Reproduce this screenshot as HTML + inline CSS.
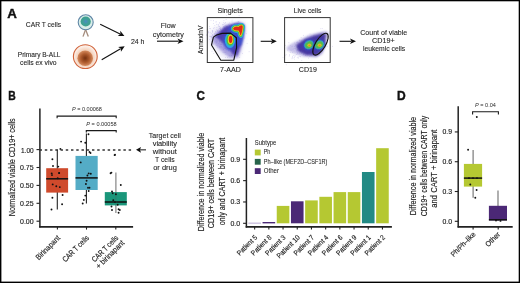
<!DOCTYPE html>
<html><head><meta charset="utf-8"><style>
html,body{margin:0;padding:0;background:#fff;width:520px;height:283px;overflow:hidden}
svg{display:block;font-family:"Liberation Sans", sans-serif;will-change:transform}
</style></head><body>
<svg width="520" height="283" viewBox="0 0 520 283" font-family='"Liberation Sans", sans-serif'>
<rect width="520" height="283" fill="#fff"/>
<rect x="0.00" y="0.00" width="520.00" height="1.30" fill="#000" />
<rect x="0.00" y="0.00" width="1.40" height="283.00" fill="#000" />
<rect x="518.70" y="0.00" width="1.30" height="283.00" fill="#000" />
<rect x="0.00" y="281.60" width="520.00" height="1.40" fill="#000" />
<text x="7.30" y="17.90" font-size="12.4" font-weight="bold" font-style="normal" fill="#111" stroke="#111" stroke-width="0.4" textLength="9.60" lengthAdjust="spacingAndGlyphs">A</text>
<text x="25.80" y="27.00" font-size="8.0" font-weight="normal" font-style="normal" fill="#1c1c1c" stroke="#1c1c1c" stroke-width="0.1" textLength="35.20" lengthAdjust="spacingAndGlyphs">CAR T cells</text>
<text x="17.80" y="56.90" font-size="8.0" font-weight="normal" font-style="normal" fill="#1c1c1c" stroke="#1c1c1c" stroke-width="0.1" textLength="42.70" lengthAdjust="spacingAndGlyphs">Primary B-ALL</text>
<text x="20.10" y="64.60" font-size="8.0" font-weight="normal" font-style="normal" fill="#1c1c1c" stroke="#1c1c1c" stroke-width="0.1" textLength="36.50" lengthAdjust="spacingAndGlyphs">cells ex vivo</text>
<text x="130.90" y="44.10" font-size="8.0" font-weight="normal" font-style="normal" fill="#1c1c1c" stroke="#1c1c1c" stroke-width="0.1" textLength="13.50" lengthAdjust="spacingAndGlyphs">24 h</text>
<text x="160.80" y="28.40" font-size="8.0" font-weight="normal" font-style="normal" fill="#1c1c1c" stroke="#1c1c1c" stroke-width="0.1" textLength="14.90" lengthAdjust="spacingAndGlyphs">Flow</text>
<text x="152.80" y="36.90" font-size="8.0" font-weight="normal" font-style="normal" fill="#1c1c1c" stroke="#1c1c1c" stroke-width="0.1" textLength="31.10" lengthAdjust="spacingAndGlyphs">cytometry</text>
<text x="217.50" y="13.00" font-size="8.0" font-weight="normal" font-style="normal" fill="#1c1c1c" stroke="#1c1c1c" stroke-width="0.1" textLength="25.40" lengthAdjust="spacingAndGlyphs">Singlets</text>
<text x="220.00" y="71.90" font-size="8.0" font-weight="normal" font-style="normal" fill="#1c1c1c" stroke="#1c1c1c" stroke-width="0.1" textLength="20.80" lengthAdjust="spacingAndGlyphs">7-AAD</text>
<text x="293.80" y="12.70" font-size="8.0" font-weight="normal" font-style="normal" fill="#1c1c1c" stroke="#1c1c1c" stroke-width="0.1" textLength="27.50" lengthAdjust="spacingAndGlyphs">Live cells</text>
<text x="298.80" y="71.90" font-size="8.0" font-weight="normal" font-style="normal" fill="#1c1c1c" stroke="#1c1c1c" stroke-width="0.1" textLength="18.00" lengthAdjust="spacingAndGlyphs">CD19</text>
<text stroke="#1c1c1c" stroke-width="0.15" transform="translate(203.00,39.80) rotate(-90)" x="0" y="0" font-size="7.0" fill="#1c1c1c" text-anchor="middle" textLength="28.30" lengthAdjust="spacingAndGlyphs">AnnexinV</text>
<text x="360.30" y="35.20" font-size="8.0" font-weight="normal" font-style="normal" fill="#1c1c1c" stroke="#1c1c1c" stroke-width="0.1" textLength="46.90" lengthAdjust="spacingAndGlyphs">Count of viable</text>
<text x="372.00" y="43.40" font-size="8.0" font-weight="normal" font-style="normal" fill="#1c1c1c" stroke="#1c1c1c" stroke-width="0.1" textLength="22.70" lengthAdjust="spacingAndGlyphs">CD19+</text>
<text x="362.90" y="51.10" font-size="8.0" font-weight="normal" font-style="normal" fill="#1c1c1c" stroke="#1c1c1c" stroke-width="0.1" textLength="42.20" lengthAdjust="spacingAndGlyphs">leukemic cells</text>
<defs>
<radialGradient id="gT" cx="50%" cy="50%" r="50%"><stop offset="0" stop-color="#4b8cc0"/><stop offset="0.55" stop-color="#3f9f98"/><stop offset="1" stop-color="#3da08c"/></radialGradient>
<radialGradient id="gB" cx="50%" cy="50%" r="50%"><stop offset="0" stop-color="#75300f"/><stop offset="0.55" stop-color="#ad5a2e"/><stop offset="1" stop-color="#d68c60"/></radialGradient>
<radialGradient id="gBo" cx="50%" cy="55%" r="50%"><stop offset="0.5" stop-color="#f0c4a8"/><stop offset="1" stop-color="#fdf1ea"/></radialGradient>
<filter id="bl1" x="-50%" y="-50%" width="200%" height="200%"><feGaussianBlur stdDeviation="0.6"/></filter>
<filter id="bl05" x="-50%" y="-50%" width="200%" height="200%"><feGaussianBlur stdDeviation="0.45"/></filter>
<filter id="bl2" x="-50%" y="-50%" width="200%" height="200%"><feGaussianBlur stdDeviation="1.2"/></filter>
<filter id="bl3" x="-50%" y="-50%" width="200%" height="200%"><feGaussianBlur stdDeviation="2.2"/></filter>
</defs>
<line x1="85.60" y1="29.50" x2="83.00" y2="36.60" stroke="#a58c7c" stroke-width="1.3" />
<line x1="85.60" y1="29.50" x2="88.30" y2="36.60" stroke="#a58c7c" stroke-width="1.3" />
<circle cx="85.7" cy="22.3" r="7.5" fill="#d9eee9" stroke="#5f86a6" stroke-width="1.1"/>
<circle cx="85.7" cy="21.5" r="5.1" fill="url(#gT)"/>
<circle cx="85.3" cy="56.6" r="11.9" fill="url(#gBo)" stroke="#d0633a" stroke-width="1.1"/>
<circle cx="85.2" cy="58.2" r="7.8" fill="url(#gB)" filter="url(#bl1)"/>
<line x1="100.20" y1="24.20" x2="120.09" y2="33.90" stroke="#111" stroke-width="1.1" />
<polygon points="124.40,36.00 117.78,35.89 120.36,34.03 120.23,30.85" fill="#111"/>
<line x1="101.70" y1="59.80" x2="120.56" y2="48.73" stroke="#111" stroke-width="1.1" />
<polygon points="124.70,46.30 120.94,51.75 120.82,48.58 118.11,46.92" fill="#111"/>
<line x1="157.00" y1="41.20" x2="178.70" y2="41.20" stroke="#111" stroke-width="1.1" />
<polygon points="183.50,41.20 177.50,44.00 179.00,41.20 177.50,38.40" fill="#111"/>
<line x1="260.70" y1="41.30" x2="272.00" y2="41.30" stroke="#111" stroke-width="1.1" />
<polygon points="276.80,41.30 270.80,44.10 272.30,41.30 270.80,38.50" fill="#111"/>
<line x1="339.50" y1="41.30" x2="351.20" y2="41.30" stroke="#111" stroke-width="1.1" />
<polygon points="356.00,41.30 350.00,44.10 351.50,41.30 350.00,38.50" fill="#111"/>
<polygon points="209.5,33 216,27 226,23.5 236,21.5 243,21.5 246,24 246,32 243.5,45 240,56 235,61 228,60 220,55 213,47 209,40" fill="#9a92da" opacity="0.22" filter="url(#bl3)"/>
<g fill="#6a5cc8" opacity="0.35"><circle cx="221.8" cy="40.9" r="0.45"/><circle cx="226.1" cy="37.0" r="0.45"/><circle cx="221.1" cy="33.0" r="0.45"/><circle cx="231.0" cy="49.2" r="0.45"/><circle cx="231.4" cy="47.8" r="0.45"/><circle cx="227.6" cy="43.4" r="0.45"/><circle cx="211.2" cy="33.6" r="0.45"/><circle cx="226.8" cy="45.7" r="0.45"/><circle cx="223.9" cy="20.6" r="0.45"/><circle cx="222.7" cy="32.0" r="0.45"/><circle cx="228.2" cy="41.7" r="0.45"/><circle cx="232.5" cy="40.1" r="0.45"/><circle cx="226.0" cy="43.9" r="0.45"/><circle cx="213.3" cy="44.3" r="0.45"/><circle cx="223.6" cy="49.5" r="0.45"/><circle cx="225.7" cy="32.4" r="0.45"/><circle cx="224.3" cy="37.3" r="0.45"/><circle cx="228.8" cy="45.3" r="0.45"/><circle cx="227.9" cy="32.4" r="0.45"/><circle cx="216.6" cy="42.7" r="0.45"/><circle cx="219.6" cy="36.1" r="0.45"/><circle cx="236.1" cy="35.3" r="0.45"/><circle cx="219.8" cy="46.8" r="0.45"/><circle cx="214.8" cy="25.6" r="0.45"/><circle cx="229.4" cy="35.3" r="0.45"/><circle cx="229.5" cy="42.9" r="0.45"/><circle cx="212.6" cy="34.8" r="0.45"/><circle cx="225.6" cy="48.9" r="0.45"/><circle cx="233.4" cy="51.0" r="0.45"/><circle cx="233.2" cy="34.3" r="0.45"/><circle cx="232.9" cy="40.9" r="0.45"/><circle cx="229.4" cy="30.9" r="0.45"/><circle cx="222.5" cy="31.2" r="0.45"/><circle cx="244.3" cy="38.1" r="0.45"/><circle cx="215.5" cy="31.9" r="0.45"/><circle cx="232.3" cy="52.0" r="0.45"/><circle cx="226.4" cy="15.4" r="0.45"/><circle cx="231.9" cy="38.6" r="0.45"/><circle cx="214.0" cy="37.7" r="0.45"/><circle cx="232.2" cy="47.8" r="0.45"/><circle cx="225.4" cy="43.7" r="0.45"/><circle cx="233.1" cy="53.2" r="0.45"/><circle cx="226.6" cy="46.0" r="0.45"/><circle cx="209.7" cy="36.4" r="0.45"/><circle cx="229.5" cy="48.7" r="0.45"/><circle cx="216.6" cy="24.3" r="0.45"/><circle cx="240.3" cy="36.4" r="0.45"/><circle cx="219.8" cy="43.9" r="0.45"/><circle cx="209.7" cy="39.6" r="0.45"/><circle cx="230.3" cy="42.8" r="0.45"/><circle cx="224.9" cy="45.3" r="0.45"/><circle cx="221.1" cy="46.4" r="0.45"/><circle cx="223.8" cy="33.7" r="0.45"/><circle cx="232.5" cy="46.8" r="0.45"/><circle cx="215.7" cy="39.1" r="0.45"/><circle cx="237.5" cy="47.1" r="0.45"/><circle cx="217.9" cy="30.6" r="0.45"/><circle cx="226.5" cy="37.6" r="0.45"/><circle cx="240.0" cy="43.9" r="0.45"/><circle cx="240.3" cy="41.7" r="0.45"/><circle cx="217.9" cy="38.1" r="0.45"/><circle cx="228.9" cy="51.4" r="0.45"/><circle cx="227.5" cy="42.9" r="0.45"/><circle cx="224.1" cy="43.8" r="0.45"/><circle cx="223.5" cy="40.3" r="0.45"/><circle cx="229.6" cy="43.6" r="0.45"/><circle cx="228.1" cy="47.7" r="0.45"/><circle cx="237.2" cy="54.4" r="0.45"/><circle cx="225.1" cy="35.4" r="0.45"/><circle cx="221.3" cy="44.5" r="0.45"/><circle cx="221.9" cy="39.8" r="0.45"/><circle cx="250.4" cy="39.0" r="0.45"/><circle cx="217.6" cy="34.1" r="0.45"/><circle cx="227.4" cy="43.7" r="0.45"/><circle cx="220.0" cy="40.5" r="0.45"/><circle cx="230.4" cy="39.2" r="0.45"/><circle cx="239.7" cy="57.2" r="0.45"/><circle cx="223.0" cy="36.0" r="0.45"/><circle cx="224.9" cy="38.3" r="0.45"/><circle cx="211.0" cy="20.2" r="0.45"/><circle cx="238.2" cy="40.6" r="0.45"/><circle cx="220.9" cy="44.3" r="0.45"/><circle cx="224.1" cy="52.8" r="0.45"/><circle cx="216.9" cy="27.4" r="0.45"/><circle cx="220.7" cy="40.9" r="0.45"/><circle cx="246.2" cy="33.7" r="0.45"/><circle cx="240.1" cy="39.8" r="0.45"/><circle cx="237.7" cy="37.0" r="0.45"/><circle cx="221.2" cy="47.0" r="0.45"/><circle cx="224.1" cy="40.0" r="0.45"/><circle cx="230.4" cy="45.8" r="0.45"/><circle cx="217.8" cy="47.0" r="0.45"/><circle cx="234.1" cy="45.2" r="0.45"/><circle cx="249.1" cy="51.8" r="0.45"/><circle cx="233.1" cy="44.5" r="0.45"/><circle cx="223.4" cy="44.3" r="0.45"/><circle cx="224.3" cy="44.6" r="0.45"/><circle cx="223.8" cy="22.8" r="0.45"/><circle cx="234.7" cy="39.1" r="0.45"/><circle cx="226.7" cy="26.2" r="0.45"/><circle cx="230.4" cy="51.8" r="0.45"/><circle cx="240.0" cy="44.7" r="0.45"/><circle cx="231.7" cy="34.4" r="0.45"/><circle cx="223.0" cy="52.7" r="0.45"/><circle cx="212.6" cy="42.1" r="0.45"/><circle cx="233.2" cy="45.4" r="0.45"/><circle cx="206.5" cy="34.4" r="0.45"/><circle cx="228.4" cy="36.4" r="0.45"/><circle cx="226.5" cy="44.6" r="0.45"/><circle cx="240.6" cy="44.5" r="0.45"/><circle cx="225.9" cy="54.6" r="0.45"/><circle cx="236.1" cy="48.3" r="0.45"/><circle cx="216.2" cy="40.3" r="0.45"/><circle cx="226.1" cy="41.3" r="0.45"/><circle cx="236.4" cy="47.8" r="0.45"/><circle cx="213.3" cy="23.5" r="0.45"/><circle cx="210.1" cy="32.3" r="0.45"/><circle cx="231.0" cy="39.0" r="0.45"/><circle cx="221.8" cy="44.1" r="0.45"/><circle cx="219.9" cy="47.1" r="0.45"/><circle cx="220.5" cy="44.8" r="0.45"/><circle cx="227.5" cy="57.5" r="0.45"/><circle cx="217.4" cy="40.1" r="0.45"/><circle cx="219.4" cy="22.7" r="0.45"/><circle cx="208.2" cy="32.8" r="0.45"/><circle cx="218.2" cy="32.1" r="0.45"/><circle cx="224.9" cy="38.6" r="0.45"/><circle cx="221.1" cy="37.4" r="0.45"/><circle cx="237.2" cy="51.6" r="0.45"/><circle cx="224.4" cy="48.3" r="0.45"/><circle cx="231.0" cy="32.5" r="0.45"/><circle cx="217.2" cy="41.8" r="0.45"/><circle cx="218.5" cy="26.6" r="0.45"/><circle cx="228.5" cy="50.3" r="0.45"/><circle cx="222.1" cy="44.0" r="0.45"/><circle cx="232.9" cy="35.2" r="0.45"/><circle cx="219.2" cy="26.9" r="0.45"/><circle cx="234.7" cy="43.1" r="0.45"/><circle cx="224.1" cy="30.4" r="0.45"/><circle cx="216.8" cy="29.7" r="0.45"/><circle cx="216.7" cy="34.3" r="0.45"/><circle cx="209.4" cy="26.6" r="0.45"/><circle cx="231.5" cy="26.3" r="0.45"/><circle cx="232.0" cy="43.2" r="0.45"/><circle cx="216.1" cy="21.5" r="0.45"/><circle cx="230.1" cy="39.6" r="0.45"/><circle cx="227.3" cy="48.7" r="0.45"/><circle cx="228.6" cy="45.9" r="0.45"/><circle cx="231.2" cy="51.8" r="0.45"/><circle cx="239.2" cy="32.6" r="0.45"/><circle cx="225.2" cy="52.2" r="0.45"/><circle cx="226.4" cy="35.8" r="0.45"/><circle cx="247.1" cy="43.6" r="0.45"/><circle cx="217.0" cy="55.0" r="0.45"/><circle cx="216.7" cy="37.5" r="0.45"/><circle cx="238.6" cy="51.4" r="0.45"/><circle cx="225.1" cy="48.0" r="0.45"/><circle cx="220.7" cy="33.8" r="0.45"/><circle cx="223.8" cy="45.9" r="0.45"/><circle cx="226.7" cy="38.8" r="0.45"/><circle cx="221.3" cy="31.8" r="0.45"/><circle cx="231.2" cy="46.2" r="0.45"/><circle cx="224.7" cy="30.4" r="0.45"/><circle cx="237.3" cy="62.6" r="0.45"/><circle cx="242.9" cy="31.2" r="0.45"/><circle cx="227.6" cy="46.3" r="0.45"/><circle cx="234.6" cy="52.8" r="0.45"/><circle cx="223.0" cy="42.2" r="0.45"/><circle cx="208.5" cy="32.7" r="0.45"/><circle cx="231.5" cy="38.6" r="0.45"/><circle cx="225.5" cy="57.4" r="0.45"/><circle cx="220.4" cy="27.8" r="0.45"/><circle cx="226.9" cy="42.8" r="0.45"/><circle cx="228.3" cy="32.6" r="0.45"/><circle cx="234.4" cy="58.6" r="0.45"/><circle cx="225.1" cy="25.7" r="0.45"/><circle cx="231.9" cy="55.7" r="0.45"/><circle cx="233.6" cy="55.6" r="0.45"/><circle cx="219.2" cy="35.7" r="0.45"/><circle cx="216.0" cy="22.6" r="0.45"/><circle cx="223.0" cy="42.2" r="0.45"/><circle cx="222.0" cy="34.8" r="0.45"/><circle cx="227.1" cy="44.8" r="0.45"/><circle cx="229.0" cy="45.1" r="0.45"/><circle cx="220.0" cy="41.8" r="0.45"/><circle cx="230.4" cy="36.2" r="0.45"/><circle cx="222.0" cy="36.0" r="0.45"/><circle cx="224.5" cy="40.1" r="0.45"/><circle cx="225.1" cy="40.9" r="0.45"/><circle cx="231.4" cy="32.9" r="0.45"/><circle cx="223.5" cy="47.9" r="0.45"/><circle cx="229.7" cy="41.8" r="0.45"/><circle cx="233.6" cy="38.1" r="0.45"/><circle cx="213.6" cy="28.2" r="0.45"/><circle cx="216.4" cy="37.7" r="0.45"/><circle cx="232.1" cy="20.1" r="0.45"/><circle cx="211.6" cy="41.2" r="0.45"/><circle cx="230.3" cy="30.8" r="0.45"/><circle cx="218.6" cy="37.7" r="0.45"/><circle cx="228.3" cy="44.0" r="0.45"/><circle cx="231.9" cy="52.9" r="0.45"/><circle cx="222.9" cy="42.8" r="0.45"/><circle cx="231.7" cy="55.3" r="0.45"/><circle cx="237.9" cy="41.2" r="0.45"/><circle cx="221.4" cy="42.7" r="0.45"/><circle cx="218.8" cy="43.4" r="0.45"/><circle cx="225.3" cy="48.3" r="0.45"/><circle cx="212.0" cy="51.3" r="0.45"/><circle cx="235.0" cy="46.8" r="0.45"/><circle cx="213.7" cy="53.4" r="0.45"/><circle cx="219.5" cy="42.1" r="0.45"/><circle cx="232.2" cy="46.3" r="0.45"/><circle cx="217.6" cy="33.5" r="0.45"/><circle cx="222.7" cy="47.9" r="0.45"/><circle cx="230.9" cy="45.1" r="0.45"/><circle cx="228.8" cy="48.1" r="0.45"/><circle cx="227.0" cy="41.6" r="0.45"/><circle cx="221.1" cy="41.8" r="0.45"/><circle cx="222.4" cy="30.2" r="0.45"/><circle cx="233.3" cy="32.8" r="0.45"/><circle cx="233.2" cy="27.3" r="0.45"/><circle cx="218.8" cy="38.5" r="0.45"/><circle cx="229.9" cy="43.3" r="0.45"/><circle cx="231.5" cy="31.5" r="0.45"/><circle cx="235.1" cy="54.2" r="0.45"/><circle cx="237.3" cy="42.6" r="0.45"/><circle cx="233.8" cy="29.8" r="0.45"/><circle cx="226.3" cy="49.6" r="0.45"/><circle cx="214.2" cy="27.7" r="0.45"/><circle cx="238.7" cy="35.3" r="0.45"/><circle cx="219.7" cy="23.1" r="0.45"/><circle cx="228.9" cy="29.1" r="0.45"/><circle cx="225.0" cy="41.4" r="0.45"/><circle cx="226.6" cy="47.5" r="0.45"/><circle cx="229.8" cy="55.3" r="0.45"/><circle cx="220.2" cy="29.1" r="0.45"/><circle cx="224.6" cy="27.9" r="0.45"/><circle cx="225.5" cy="39.5" r="0.45"/><circle cx="237.0" cy="35.3" r="0.45"/><circle cx="218.2" cy="32.0" r="0.45"/><circle cx="226.3" cy="37.2" r="0.45"/><circle cx="229.4" cy="35.8" r="0.45"/><circle cx="228.7" cy="46.2" r="0.45"/><circle cx="228.8" cy="36.1" r="0.45"/><circle cx="238.4" cy="25.4" r="0.45"/><circle cx="219.6" cy="33.9" r="0.45"/><circle cx="215.4" cy="31.4" r="0.45"/><circle cx="233.8" cy="34.1" r="0.45"/><circle cx="226.0" cy="36.9" r="0.45"/><circle cx="225.9" cy="46.0" r="0.45"/><circle cx="230.0" cy="35.6" r="0.45"/><circle cx="225.4" cy="38.8" r="0.45"/><circle cx="229.2" cy="46.1" r="0.45"/><circle cx="228.1" cy="28.7" r="0.45"/><circle cx="227.3" cy="34.0" r="0.45"/><circle cx="219.5" cy="32.4" r="0.45"/><circle cx="222.4" cy="37.4" r="0.45"/><circle cx="231.4" cy="41.3" r="0.45"/><circle cx="242.4" cy="53.2" r="0.45"/><circle cx="232.4" cy="47.6" r="0.45"/></g>
<g fill="#5a4cc0" opacity="0.4"><circle cx="226.1" cy="19.6" r="0.45"/><circle cx="217.0" cy="35.4" r="0.45"/><circle cx="230.3" cy="38.4" r="0.45"/><circle cx="226.5" cy="35.5" r="0.45"/><circle cx="229.2" cy="32.8" r="0.45"/><circle cx="225.4" cy="29.7" r="0.45"/><circle cx="223.9" cy="26.4" r="0.45"/><circle cx="228.8" cy="24.3" r="0.45"/><circle cx="227.4" cy="38.8" r="0.45"/><circle cx="220.4" cy="32.8" r="0.45"/><circle cx="230.5" cy="28.2" r="0.45"/><circle cx="216.6" cy="35.7" r="0.45"/><circle cx="227.4" cy="32.6" r="0.45"/><circle cx="219.4" cy="41.0" r="0.45"/><circle cx="234.1" cy="26.4" r="0.45"/><circle cx="223.2" cy="29.5" r="0.45"/><circle cx="231.1" cy="24.7" r="0.45"/><circle cx="226.1" cy="28.0" r="0.45"/><circle cx="218.2" cy="37.0" r="0.45"/><circle cx="231.7" cy="27.5" r="0.45"/><circle cx="218.5" cy="37.2" r="0.45"/><circle cx="222.2" cy="33.3" r="0.45"/><circle cx="235.0" cy="31.0" r="0.45"/><circle cx="222.1" cy="42.0" r="0.45"/><circle cx="223.4" cy="34.8" r="0.45"/><circle cx="217.2" cy="34.0" r="0.45"/><circle cx="212.3" cy="44.4" r="0.45"/><circle cx="229.8" cy="23.0" r="0.45"/><circle cx="208.3" cy="31.2" r="0.45"/><circle cx="229.7" cy="26.4" r="0.45"/><circle cx="221.0" cy="31.1" r="0.45"/><circle cx="219.3" cy="28.5" r="0.45"/><circle cx="219.7" cy="26.7" r="0.45"/><circle cx="222.0" cy="33.4" r="0.45"/><circle cx="225.0" cy="29.6" r="0.45"/><circle cx="215.7" cy="35.6" r="0.45"/><circle cx="221.1" cy="39.3" r="0.45"/><circle cx="227.4" cy="29.0" r="0.45"/><circle cx="217.4" cy="31.0" r="0.45"/><circle cx="214.6" cy="33.9" r="0.45"/><circle cx="225.0" cy="32.9" r="0.45"/><circle cx="229.7" cy="37.7" r="0.45"/><circle cx="216.9" cy="34.4" r="0.45"/><circle cx="239.1" cy="15.8" r="0.45"/><circle cx="218.5" cy="34.4" r="0.45"/><circle cx="223.8" cy="33.0" r="0.45"/><circle cx="220.9" cy="34.1" r="0.45"/><circle cx="223.7" cy="34.6" r="0.45"/><circle cx="206.8" cy="35.2" r="0.45"/><circle cx="220.2" cy="28.3" r="0.45"/><circle cx="215.5" cy="37.8" r="0.45"/><circle cx="218.4" cy="36.5" r="0.45"/><circle cx="227.9" cy="30.6" r="0.45"/><circle cx="225.5" cy="29.9" r="0.45"/><circle cx="211.7" cy="36.7" r="0.45"/><circle cx="224.4" cy="28.5" r="0.45"/><circle cx="222.5" cy="35.1" r="0.45"/><circle cx="216.7" cy="37.3" r="0.45"/><circle cx="234.6" cy="23.7" r="0.45"/><circle cx="222.8" cy="31.0" r="0.45"/><circle cx="233.7" cy="27.9" r="0.45"/><circle cx="227.3" cy="26.5" r="0.45"/><circle cx="221.9" cy="32.0" r="0.45"/><circle cx="211.6" cy="43.2" r="0.45"/><circle cx="225.6" cy="22.6" r="0.45"/><circle cx="227.2" cy="29.0" r="0.45"/><circle cx="225.9" cy="31.8" r="0.45"/><circle cx="210.8" cy="36.3" r="0.45"/><circle cx="231.9" cy="24.9" r="0.45"/><circle cx="212.3" cy="30.5" r="0.45"/><circle cx="213.7" cy="37.3" r="0.45"/><circle cx="235.0" cy="27.8" r="0.45"/><circle cx="227.6" cy="39.3" r="0.45"/><circle cx="217.1" cy="31.3" r="0.45"/><circle cx="226.8" cy="32.2" r="0.45"/><circle cx="212.7" cy="31.2" r="0.45"/><circle cx="224.5" cy="31.9" r="0.45"/><circle cx="212.2" cy="35.7" r="0.45"/><circle cx="218.8" cy="35.5" r="0.45"/><circle cx="221.0" cy="32.1" r="0.45"/><circle cx="221.2" cy="37.0" r="0.45"/><circle cx="231.5" cy="26.0" r="0.45"/><circle cx="226.9" cy="26.4" r="0.45"/><circle cx="223.8" cy="34.5" r="0.45"/><circle cx="232.3" cy="25.5" r="0.45"/><circle cx="221.8" cy="33.0" r="0.45"/><circle cx="211.2" cy="37.1" r="0.45"/><circle cx="217.7" cy="35.6" r="0.45"/><circle cx="210.5" cy="28.7" r="0.45"/><circle cx="222.7" cy="32.8" r="0.45"/><circle cx="219.5" cy="37.1" r="0.45"/><circle cx="219.0" cy="30.7" r="0.45"/><circle cx="222.8" cy="24.7" r="0.45"/><circle cx="217.1" cy="34.2" r="0.45"/><circle cx="227.9" cy="28.5" r="0.45"/><circle cx="223.1" cy="28.6" r="0.45"/><circle cx="227.0" cy="37.0" r="0.45"/><circle cx="221.0" cy="42.9" r="0.45"/><circle cx="217.4" cy="34.2" r="0.45"/><circle cx="225.0" cy="35.1" r="0.45"/><circle cx="209.5" cy="28.6" r="0.45"/><circle cx="227.7" cy="32.8" r="0.45"/><circle cx="231.0" cy="39.4" r="0.45"/><circle cx="223.9" cy="32.2" r="0.45"/><circle cx="229.4" cy="30.2" r="0.45"/><circle cx="232.0" cy="21.9" r="0.45"/><circle cx="213.5" cy="20.8" r="0.45"/><circle cx="227.3" cy="27.9" r="0.45"/><circle cx="232.3" cy="36.7" r="0.45"/><circle cx="221.5" cy="31.1" r="0.45"/><circle cx="217.0" cy="30.7" r="0.45"/><circle cx="218.5" cy="36.4" r="0.45"/><circle cx="222.4" cy="32.1" r="0.45"/><circle cx="222.3" cy="35.9" r="0.45"/><circle cx="225.3" cy="29.8" r="0.45"/><circle cx="226.6" cy="29.2" r="0.45"/><circle cx="216.1" cy="41.2" r="0.45"/><circle cx="223.8" cy="27.0" r="0.45"/><circle cx="230.4" cy="29.6" r="0.45"/><circle cx="213.4" cy="43.1" r="0.45"/><circle cx="225.9" cy="34.1" r="0.45"/><circle cx="223.2" cy="30.8" r="0.45"/><circle cx="212.4" cy="40.8" r="0.45"/><circle cx="221.7" cy="30.9" r="0.45"/><circle cx="224.7" cy="31.1" r="0.45"/><circle cx="226.3" cy="28.4" r="0.45"/><circle cx="218.1" cy="24.4" r="0.45"/><circle cx="220.1" cy="35.9" r="0.45"/><circle cx="231.1" cy="26.2" r="0.45"/><circle cx="223.8" cy="38.2" r="0.45"/><circle cx="220.9" cy="35.8" r="0.45"/><circle cx="234.2" cy="26.5" r="0.45"/><circle cx="229.7" cy="25.3" r="0.45"/><circle cx="223.4" cy="31.0" r="0.45"/><circle cx="224.7" cy="35.7" r="0.45"/><circle cx="238.2" cy="21.5" r="0.45"/><circle cx="218.7" cy="35.7" r="0.45"/><circle cx="215.2" cy="37.4" r="0.45"/><circle cx="225.7" cy="29.1" r="0.45"/><circle cx="223.2" cy="24.6" r="0.45"/><circle cx="224.9" cy="23.8" r="0.45"/><circle cx="216.0" cy="32.3" r="0.45"/><circle cx="220.5" cy="36.5" r="0.45"/><circle cx="221.9" cy="30.3" r="0.45"/><circle cx="228.6" cy="35.9" r="0.45"/><circle cx="222.7" cy="33.3" r="0.45"/><circle cx="231.4" cy="28.8" r="0.45"/><circle cx="216.9" cy="45.4" r="0.45"/><circle cx="234.7" cy="17.3" r="0.45"/><circle cx="222.4" cy="33.6" r="0.45"/><circle cx="230.1" cy="31.2" r="0.45"/><circle cx="218.2" cy="29.1" r="0.45"/><circle cx="224.5" cy="35.4" r="0.45"/><circle cx="212.4" cy="32.0" r="0.45"/><circle cx="218.5" cy="25.1" r="0.45"/><circle cx="219.4" cy="31.3" r="0.45"/><circle cx="224.1" cy="27.9" r="0.45"/><circle cx="214.9" cy="33.6" r="0.45"/><circle cx="220.5" cy="29.8" r="0.45"/><circle cx="223.4" cy="34.7" r="0.45"/></g>
<polygon points="211.9,38.1 216.8,32.4 226.5,25.1 239.5,22.2 244.4,24.3 244.1,33.3 241.1,49.5 237.9,57.7 229.8,57.7 220,49.5 213.5,43" fill="#6a5cc8" opacity="0.5" filter="url(#bl2)"/>
<polygon points="215.1,36.5 224.9,26.8 237.9,23.2 243.6,25.1 242.8,34.9 240.3,46.3 237.1,55.2 233,54.4 228.1,46.3 221.6,41.4" fill="#4536a8" opacity="0.9" filter="url(#bl2)"/>
<polygon points="228,28 234,24.2 241,23.5 244.3,25.5 244.5,30 243.5,38 241.5,45 238,47 235,40 231,33 228,31" fill="#3a4fd0" opacity="0.85" filter="url(#bl2)"/>
<polygon points="233.2,28.2 234.5,26.9 236.6,26.6 238.5,27 239.8,25.8 241.7,25.3 242.8,26.6 242.4,29.8 241.7,33 240.8,35.6 240,34.6 239.4,31.9 238.5,30.6 236.6,30.6 234.5,30.3 233.2,29.3" fill="#2aa8e0" stroke="#2aa8e0" stroke-width="4.6" stroke-linejoin="round" filter="url(#bl1)"/>
<polygon points="233.2,28.2 234.5,26.9 236.6,26.6 238.5,27 239.8,25.8 241.7,25.3 242.8,26.6 242.4,29.8 241.7,33 240.8,35.6 240,34.6 239.4,31.9 238.5,30.6 236.6,30.6 234.5,30.3 233.2,29.3" fill="#4cc040" stroke="#4cc040" stroke-width="2.8" stroke-linejoin="round" filter="url(#bl05)"/>
<polygon points="233.2,28.2 234.5,26.9 236.6,26.6 238.5,27 239.8,25.8 241.7,25.3 242.8,26.6 242.4,29.8 241.7,33 240.8,35.6 240,34.6 239.4,31.9 238.5,30.6 236.6,30.6 234.5,30.3 233.2,29.3" fill="#e8d820" stroke="#e8d820" stroke-width="1.2" stroke-linejoin="round" filter="url(#bl05)"/>
<polygon points="233.2,28.2 234.5,26.9 236.6,26.6 238.5,27 239.8,25.8 241.7,25.3 242.8,26.6 242.4,29.8 241.7,33 240.8,35.6 240,34.6 239.4,31.9 238.5,30.6 236.6,30.6 234.5,30.3 233.2,29.3" fill="#e02a18" filter="url(#bl05)"/>
<ellipse cx="230.0" cy="40.9" rx="6.8" ry="9.3" fill="#3a4fd0" opacity="0.9" filter="url(#bl2)"/>
<ellipse cx="230.0" cy="40.3" rx="5.2" ry="7.6" fill="#2aa8e0" filter="url(#bl1)"/>
<ellipse cx="230.2" cy="39.8" rx="3.8" ry="5.9" fill="#4cc040" filter="url(#bl1)"/>
<ellipse cx="230.5" cy="39.4" rx="2.7" ry="4.7" fill="#e8d820" filter="url(#bl1)"/>
<ellipse cx="230.6" cy="39.3" rx="1.8" ry="3.6" fill="#e02a18" filter="url(#bl1)"/>
<polygon points="213.4,37.1 216.6,35.0 222,33.4 230.6,33.1 236.4,37.8 236.6,47.7 233.8,60.2 220.8,60.2 211.5,45" fill="none" stroke="#111" stroke-width="1.1" stroke-linejoin="round"/>
<rect x="207.3" y="17.6" width="45.6" height="44.9" fill="none" stroke="#333" stroke-width="1"/>
<g fill="#6a5cc8" opacity="0.35"><circle cx="319.9" cy="50.2" r="0.45"/><circle cx="298.0" cy="48.7" r="0.45"/><circle cx="286.2" cy="64.7" r="0.45"/><circle cx="299.2" cy="50.1" r="0.45"/><circle cx="308.6" cy="39.9" r="0.45"/><circle cx="310.3" cy="45.7" r="0.45"/><circle cx="289.6" cy="55.6" r="0.45"/><circle cx="313.9" cy="35.2" r="0.45"/><circle cx="313.8" cy="45.3" r="0.45"/><circle cx="311.1" cy="47.6" r="0.45"/><circle cx="317.7" cy="41.7" r="0.45"/><circle cx="313.4" cy="42.5" r="0.45"/><circle cx="311.4" cy="41.4" r="0.45"/><circle cx="307.9" cy="55.1" r="0.45"/><circle cx="309.9" cy="45.2" r="0.45"/><circle cx="294.1" cy="48.5" r="0.45"/><circle cx="309.4" cy="50.7" r="0.45"/><circle cx="310.8" cy="48.1" r="0.45"/><circle cx="307.9" cy="53.3" r="0.45"/><circle cx="301.4" cy="46.7" r="0.45"/><circle cx="314.3" cy="44.4" r="0.45"/><circle cx="302.4" cy="46.1" r="0.45"/><circle cx="304.7" cy="51.1" r="0.45"/><circle cx="307.2" cy="41.1" r="0.45"/><circle cx="310.3" cy="46.6" r="0.45"/><circle cx="298.0" cy="54.5" r="0.45"/><circle cx="302.8" cy="47.2" r="0.45"/><circle cx="315.6" cy="50.0" r="0.45"/><circle cx="300.4" cy="51.9" r="0.45"/><circle cx="301.8" cy="60.4" r="0.45"/><circle cx="303.4" cy="54.3" r="0.45"/><circle cx="301.4" cy="53.3" r="0.45"/><circle cx="322.3" cy="28.6" r="0.45"/><circle cx="302.8" cy="51.2" r="0.45"/><circle cx="304.0" cy="45.1" r="0.45"/><circle cx="326.1" cy="39.8" r="0.45"/><circle cx="292.2" cy="57.2" r="0.45"/><circle cx="292.0" cy="58.8" r="0.45"/><circle cx="300.9" cy="50.3" r="0.45"/><circle cx="317.9" cy="43.3" r="0.45"/><circle cx="290.2" cy="45.6" r="0.45"/><circle cx="318.2" cy="46.2" r="0.45"/><circle cx="299.9" cy="54.1" r="0.45"/><circle cx="311.7" cy="48.3" r="0.45"/><circle cx="284.5" cy="54.7" r="0.45"/><circle cx="315.6" cy="47.2" r="0.45"/><circle cx="310.0" cy="33.9" r="0.45"/><circle cx="308.4" cy="48.9" r="0.45"/><circle cx="328.1" cy="34.0" r="0.45"/><circle cx="303.0" cy="48.9" r="0.45"/><circle cx="313.5" cy="42.3" r="0.45"/><circle cx="315.3" cy="39.9" r="0.45"/><circle cx="307.6" cy="44.3" r="0.45"/><circle cx="306.3" cy="44.0" r="0.45"/><circle cx="293.0" cy="58.0" r="0.45"/><circle cx="307.9" cy="44.0" r="0.45"/><circle cx="309.5" cy="50.9" r="0.45"/><circle cx="296.8" cy="50.7" r="0.45"/><circle cx="311.9" cy="47.7" r="0.45"/><circle cx="299.3" cy="40.0" r="0.45"/><circle cx="318.1" cy="44.2" r="0.45"/><circle cx="305.7" cy="46.3" r="0.45"/><circle cx="307.7" cy="44.7" r="0.45"/><circle cx="295.3" cy="48.3" r="0.45"/><circle cx="299.4" cy="47.2" r="0.45"/><circle cx="296.3" cy="54.5" r="0.45"/><circle cx="295.0" cy="55.2" r="0.45"/><circle cx="297.2" cy="52.8" r="0.45"/><circle cx="319.1" cy="43.2" r="0.45"/><circle cx="299.3" cy="50.4" r="0.45"/><circle cx="304.5" cy="39.7" r="0.45"/><circle cx="300.6" cy="50.5" r="0.45"/><circle cx="301.8" cy="49.6" r="0.45"/><circle cx="314.1" cy="47.9" r="0.45"/><circle cx="315.4" cy="46.6" r="0.45"/><circle cx="303.3" cy="48.5" r="0.45"/><circle cx="303.0" cy="47.2" r="0.45"/><circle cx="301.4" cy="41.0" r="0.45"/><circle cx="302.9" cy="48.6" r="0.45"/><circle cx="296.9" cy="51.0" r="0.45"/><circle cx="310.5" cy="44.9" r="0.45"/><circle cx="320.9" cy="28.8" r="0.45"/><circle cx="301.0" cy="40.7" r="0.45"/><circle cx="319.6" cy="54.9" r="0.45"/><circle cx="283.0" cy="57.4" r="0.45"/><circle cx="310.3" cy="44.3" r="0.45"/><circle cx="307.3" cy="36.1" r="0.45"/><circle cx="314.5" cy="45.9" r="0.45"/><circle cx="305.2" cy="45.0" r="0.45"/><circle cx="311.1" cy="43.1" r="0.45"/><circle cx="307.2" cy="44.5" r="0.45"/><circle cx="285.1" cy="55.8" r="0.45"/><circle cx="309.1" cy="49.9" r="0.45"/><circle cx="297.8" cy="50.6" r="0.45"/><circle cx="312.0" cy="45.8" r="0.45"/><circle cx="320.9" cy="51.2" r="0.45"/><circle cx="294.3" cy="42.9" r="0.45"/><circle cx="316.5" cy="50.7" r="0.45"/><circle cx="315.9" cy="47.4" r="0.45"/><circle cx="299.1" cy="46.8" r="0.45"/><circle cx="312.7" cy="40.4" r="0.45"/><circle cx="287.5" cy="50.1" r="0.45"/><circle cx="332.4" cy="46.2" r="0.45"/><circle cx="298.4" cy="47.0" r="0.45"/><circle cx="306.9" cy="43.5" r="0.45"/><circle cx="318.0" cy="42.3" r="0.45"/><circle cx="298.1" cy="57.0" r="0.45"/><circle cx="301.0" cy="50.6" r="0.45"/><circle cx="305.4" cy="46.2" r="0.45"/><circle cx="307.8" cy="43.4" r="0.45"/><circle cx="285.2" cy="45.2" r="0.45"/><circle cx="293.0" cy="49.1" r="0.45"/><circle cx="305.9" cy="47.8" r="0.45"/><circle cx="311.4" cy="45.9" r="0.45"/><circle cx="297.4" cy="47.5" r="0.45"/><circle cx="286.1" cy="54.7" r="0.45"/><circle cx="311.4" cy="47.9" r="0.45"/><circle cx="304.6" cy="47.2" r="0.45"/><circle cx="314.7" cy="44.1" r="0.45"/><circle cx="313.8" cy="47.2" r="0.45"/><circle cx="310.2" cy="52.2" r="0.45"/><circle cx="300.1" cy="48.1" r="0.45"/><circle cx="297.2" cy="47.2" r="0.45"/><circle cx="323.4" cy="49.0" r="0.45"/><circle cx="307.2" cy="49.8" r="0.45"/><circle cx="318.3" cy="46.5" r="0.45"/><circle cx="315.0" cy="37.7" r="0.45"/><circle cx="300.8" cy="51.8" r="0.45"/><circle cx="319.5" cy="42.6" r="0.45"/><circle cx="297.4" cy="49.2" r="0.45"/><circle cx="298.4" cy="46.4" r="0.45"/><circle cx="318.9" cy="39.3" r="0.45"/><circle cx="309.8" cy="56.4" r="0.45"/><circle cx="317.6" cy="44.5" r="0.45"/><circle cx="301.0" cy="51.5" r="0.45"/><circle cx="322.1" cy="44.0" r="0.45"/><circle cx="317.9" cy="43.2" r="0.45"/><circle cx="310.4" cy="44.7" r="0.45"/><circle cx="312.2" cy="51.3" r="0.45"/><circle cx="292.6" cy="52.6" r="0.45"/><circle cx="307.3" cy="44.2" r="0.45"/><circle cx="304.5" cy="51.9" r="0.45"/><circle cx="325.6" cy="42.6" r="0.45"/><circle cx="306.4" cy="39.8" r="0.45"/><circle cx="324.0" cy="40.6" r="0.45"/><circle cx="303.8" cy="43.0" r="0.45"/><circle cx="303.6" cy="43.1" r="0.45"/><circle cx="307.4" cy="49.2" r="0.45"/><circle cx="306.8" cy="48.5" r="0.45"/><circle cx="300.5" cy="56.7" r="0.45"/><circle cx="296.9" cy="42.4" r="0.45"/><circle cx="303.0" cy="45.0" r="0.45"/><circle cx="296.0" cy="49.8" r="0.45"/><circle cx="306.7" cy="41.5" r="0.45"/><circle cx="307.1" cy="54.0" r="0.45"/><circle cx="312.1" cy="44.3" r="0.45"/><circle cx="307.0" cy="46.5" r="0.45"/><circle cx="306.8" cy="50.7" r="0.45"/><circle cx="301.1" cy="37.8" r="0.45"/><circle cx="304.3" cy="43.9" r="0.45"/><circle cx="311.0" cy="42.5" r="0.45"/><circle cx="311.0" cy="56.0" r="0.45"/><circle cx="294.4" cy="46.7" r="0.45"/><circle cx="288.9" cy="42.8" r="0.45"/><circle cx="289.2" cy="56.1" r="0.45"/><circle cx="296.9" cy="42.1" r="0.45"/><circle cx="293.3" cy="55.6" r="0.45"/><circle cx="298.2" cy="48.9" r="0.45"/><circle cx="311.4" cy="51.9" r="0.45"/><circle cx="325.7" cy="44.5" r="0.45"/><circle cx="307.6" cy="47.7" r="0.45"/><circle cx="325.1" cy="46.7" r="0.45"/><circle cx="303.9" cy="50.6" r="0.45"/><circle cx="308.7" cy="46.6" r="0.45"/><circle cx="299.1" cy="43.8" r="0.45"/><circle cx="298.4" cy="43.1" r="0.45"/><circle cx="318.3" cy="45.2" r="0.45"/><circle cx="297.2" cy="57.8" r="0.45"/><circle cx="311.1" cy="36.2" r="0.45"/><circle cx="324.4" cy="44.0" r="0.45"/><circle cx="323.1" cy="34.6" r="0.45"/><circle cx="311.6" cy="47.3" r="0.45"/><circle cx="308.2" cy="47.5" r="0.45"/><circle cx="313.2" cy="37.3" r="0.45"/><circle cx="292.1" cy="46.3" r="0.45"/><circle cx="299.8" cy="47.1" r="0.45"/><circle cx="309.9" cy="47.2" r="0.45"/><circle cx="305.1" cy="44.6" r="0.45"/><circle cx="303.5" cy="53.1" r="0.45"/><circle cx="313.3" cy="45.1" r="0.45"/><circle cx="305.6" cy="55.2" r="0.45"/><circle cx="301.6" cy="52.4" r="0.45"/><circle cx="316.2" cy="42.1" r="0.45"/><circle cx="311.8" cy="39.8" r="0.45"/><circle cx="315.7" cy="44.5" r="0.45"/><circle cx="292.4" cy="56.2" r="0.45"/><circle cx="299.9" cy="56.2" r="0.45"/><circle cx="299.4" cy="49.4" r="0.45"/><circle cx="308.1" cy="45.1" r="0.45"/><circle cx="307.5" cy="44.2" r="0.45"/><circle cx="312.2" cy="45.0" r="0.45"/><circle cx="303.3" cy="35.2" r="0.45"/><circle cx="316.8" cy="43.3" r="0.45"/><circle cx="289.6" cy="54.6" r="0.45"/><circle cx="312.1" cy="50.2" r="0.45"/><circle cx="298.6" cy="58.0" r="0.45"/><circle cx="308.6" cy="58.1" r="0.45"/><circle cx="305.8" cy="50.9" r="0.45"/><circle cx="300.7" cy="44.2" r="0.45"/><circle cx="317.7" cy="47.2" r="0.45"/><circle cx="321.7" cy="45.3" r="0.45"/><circle cx="297.9" cy="42.7" r="0.45"/><circle cx="298.8" cy="47.1" r="0.45"/><circle cx="299.4" cy="53.0" r="0.45"/><circle cx="308.6" cy="45.1" r="0.45"/><circle cx="307.4" cy="46.2" r="0.45"/><circle cx="309.2" cy="49.8" r="0.45"/><circle cx="313.7" cy="41.0" r="0.45"/><circle cx="294.4" cy="59.1" r="0.45"/><circle cx="308.9" cy="51.7" r="0.45"/><circle cx="290.2" cy="52.3" r="0.45"/><circle cx="303.8" cy="41.4" r="0.45"/><circle cx="302.4" cy="52.5" r="0.45"/><circle cx="318.7" cy="50.1" r="0.45"/><circle cx="295.6" cy="44.9" r="0.45"/><circle cx="312.4" cy="49.5" r="0.45"/><circle cx="305.6" cy="41.3" r="0.45"/><circle cx="314.6" cy="47.9" r="0.45"/><circle cx="310.3" cy="43.4" r="0.45"/><circle cx="310.2" cy="49.7" r="0.45"/><circle cx="297.7" cy="41.9" r="0.45"/><circle cx="309.9" cy="48.3" r="0.45"/><circle cx="307.6" cy="51.2" r="0.45"/><circle cx="300.4" cy="49.4" r="0.45"/><circle cx="304.1" cy="51.0" r="0.45"/><circle cx="320.4" cy="40.5" r="0.45"/><circle cx="327.6" cy="46.2" r="0.45"/><circle cx="314.3" cy="47.0" r="0.45"/><circle cx="322.1" cy="40.1" r="0.45"/><circle cx="303.2" cy="43.5" r="0.45"/><circle cx="312.7" cy="51.3" r="0.45"/><circle cx="311.6" cy="47.3" r="0.45"/><circle cx="304.4" cy="49.0" r="0.45"/><circle cx="294.6" cy="57.2" r="0.45"/><circle cx="300.3" cy="44.4" r="0.45"/><circle cx="297.6" cy="46.9" r="0.45"/><circle cx="315.7" cy="48.7" r="0.45"/><circle cx="295.0" cy="56.5" r="0.45"/><circle cx="313.3" cy="41.8" r="0.45"/><circle cx="291.0" cy="50.0" r="0.45"/><circle cx="300.7" cy="51.3" r="0.45"/><circle cx="299.3" cy="40.4" r="0.45"/><circle cx="305.6" cy="40.2" r="0.45"/><circle cx="312.4" cy="39.1" r="0.45"/><circle cx="298.1" cy="46.5" r="0.45"/><circle cx="303.2" cy="54.9" r="0.45"/><circle cx="314.9" cy="46.8" r="0.45"/><circle cx="306.4" cy="39.8" r="0.45"/><circle cx="300.2" cy="47.1" r="0.45"/><circle cx="297.8" cy="53.3" r="0.45"/></g>
<polygon points="286.5,47.5 291,44 300,39.5 309,35 318,32.5 325,31 328.5,32 327.5,38 325,47 322.5,54 316.5,57.5 303.5,56.8 293,53 287,50" fill="#7468c8" opacity="0.4" filter="url(#bl2)"/>
<polygon points="296,45 305,39 314,35.5 322,33.5 326,34 325,42 322,51 317,55.5 306,55 298,51" fill="#3a2a9a" opacity="0.9" filter="url(#bl2)"/>
<ellipse cx="309.0" cy="44.8" rx="6.2" ry="5.4" fill="#3548c0" transform="rotate(-30 309.0 44.8)" filter="url(#bl2)"/>
<ellipse cx="309.0" cy="44.8" rx="5.0" ry="4.2" fill="#2aaed6" transform="rotate(-30 309.0 44.8)" filter="url(#bl05)"/>
<ellipse cx="309.0" cy="44.8" rx="4.1" ry="3.4" fill="#58b848" transform="rotate(-30 309.0 44.8)" filter="url(#bl05)"/>
<ellipse cx="309.4" cy="45.199999999999996" rx="2.0" ry="1.6" fill="#c8c830" filter="url(#bl05)"/>
<ellipse cx="309.4" cy="45.3" rx="1.1" ry="0.9" fill="#f08a18" filter="url(#bl05)"/>
<ellipse cx="319.2" cy="44.8" rx="6.2" ry="5.4" fill="#3548c0" transform="rotate(-30 319.2 44.8)" filter="url(#bl2)"/>
<ellipse cx="319.2" cy="44.8" rx="5.0" ry="4.2" fill="#2aaed6" transform="rotate(-30 319.2 44.8)" filter="url(#bl05)"/>
<ellipse cx="319.2" cy="44.8" rx="4.1" ry="3.4" fill="#58b848" transform="rotate(-30 319.2 44.8)" filter="url(#bl05)"/>
<ellipse cx="319.59999999999997" cy="45.199999999999996" rx="2.0" ry="1.6" fill="#c8c830" filter="url(#bl05)"/>
<ellipse cx="319.59999999999997" cy="45.3" rx="1.1" ry="0.9" fill="#f08a18" filter="url(#bl05)"/>
<ellipse cx="320.5" cy="44.2" rx="12.4" ry="5.0" transform="rotate(-59 320.5 44.2)" fill="none" stroke="#111" stroke-width="1.15"/>
<rect x="284.6" y="17.6" width="45.6" height="44.9" fill="none" stroke="#333" stroke-width="1"/>
<text x="8.20" y="99.90" font-size="12.4" font-weight="bold" font-style="normal" fill="#111" stroke="#111" stroke-width="0.4" textLength="7.50" lengthAdjust="spacingAndGlyphs">B</text>
<text stroke="#1c1c1c" stroke-width="0.15" transform="translate(15.10,167.30) rotate(-90)" x="0" y="0" font-size="9.6" fill="#1c1c1c" text-anchor="middle" textLength="98.00" lengthAdjust="spacingAndGlyphs">Normalized viable CD19+ cells</text>
<text x="21.00" y="152.50" font-size="7.0" font-weight="normal" font-style="normal" fill="#1c1c1c" stroke="#1c1c1c" stroke-width="0.15" textLength="12.60" lengthAdjust="spacingAndGlyphs">1.00</text>
<line x1="36.50" y1="149.60" x2="39.80" y2="149.60" stroke="#222" stroke-width="1.1" />
<text x="20.00" y="170.40" font-size="7.0" font-weight="normal" font-style="normal" fill="#1c1c1c" stroke="#1c1c1c" stroke-width="0.15" textLength="13.60" lengthAdjust="spacingAndGlyphs">0.75</text>
<line x1="36.50" y1="167.50" x2="39.80" y2="167.50" stroke="#222" stroke-width="1.1" />
<text x="20.00" y="188.30" font-size="7.0" font-weight="normal" font-style="normal" fill="#1c1c1c" stroke="#1c1c1c" stroke-width="0.15" textLength="13.60" lengthAdjust="spacingAndGlyphs">0.50</text>
<line x1="36.50" y1="185.40" x2="39.80" y2="185.40" stroke="#222" stroke-width="1.1" />
<text x="20.00" y="206.20" font-size="7.0" font-weight="normal" font-style="normal" fill="#1c1c1c" stroke="#1c1c1c" stroke-width="0.15" textLength="13.60" lengthAdjust="spacingAndGlyphs">0.25</text>
<line x1="36.50" y1="203.30" x2="39.80" y2="203.30" stroke="#222" stroke-width="1.1" />
<text x="20.00" y="224.10" font-size="7.0" font-weight="normal" font-style="normal" fill="#1c1c1c" stroke="#1c1c1c" stroke-width="0.15" textLength="13.60" lengthAdjust="spacingAndGlyphs">0.00</text>
<line x1="36.50" y1="221.20" x2="39.80" y2="221.20" stroke="#222" stroke-width="1.1" />
<line x1="39.90" y1="108.60" x2="39.90" y2="227.60" stroke="#222" stroke-width="1.5" />
<line x1="39.20" y1="226.90" x2="133.10" y2="226.90" stroke="#222" stroke-width="1.6" />
<line x1="57.40" y1="226.90" x2="57.40" y2="229.60" stroke="#222" stroke-width="1.1" />
<line x1="86.50" y1="226.90" x2="86.50" y2="229.60" stroke="#222" stroke-width="1.1" />
<line x1="115.80" y1="226.90" x2="115.80" y2="229.60" stroke="#222" stroke-width="1.1" />
<line x1="39.56" y1="149.90" x2="131.20" y2="149.90" stroke="#333" stroke-width="1.5" stroke-dasharray="2.45 2.79"/>
<polygon points="136,149.8 141,146.9 140,149.8 141,152.7" fill="#111"/>
<line x1="140.00" y1="149.80" x2="146.00" y2="149.80" stroke="#555" stroke-width="1.4" />
<line x1="57.30" y1="149.40" x2="57.30" y2="209.40" stroke="#222" stroke-width="1.1" />
<rect x="46.20" y="168.20" width="21.90" height="24.40" fill="#cf4a2c" />
<line x1="46.20" y1="178.80" x2="68.10" y2="178.80" stroke="#111" stroke-width="1.5" />
<line x1="86.40" y1="133.50" x2="86.40" y2="203.60" stroke="#222" stroke-width="1.1" />
<rect x="75.50" y="155.90" width="22.20" height="34.10" fill="#54acc6" />
<line x1="75.50" y1="177.90" x2="97.70" y2="177.90" stroke="#111" stroke-width="1.5" />
<line x1="115.90" y1="172.40" x2="115.90" y2="213.00" stroke="#7a7a7a" stroke-width="1.1" />
<rect x="104.80" y="192.10" width="22.00" height="13.30" fill="#1a967a" />
<line x1="104.80" y1="202.00" x2="126.80" y2="202.00" stroke="#111" stroke-width="1.5" />
<line x1="115.90" y1="192.10" x2="115.90" y2="205.40" stroke="#555" stroke-width="1.0" opacity="0.3"/>
<circle cx="52.40" cy="159.20" r="0.95" fill="#111"/>
<circle cx="60.40" cy="148.90" r="0.95" fill="#111"/>
<circle cx="53.00" cy="166.00" r="0.95" fill="#111"/>
<circle cx="58.30" cy="166.60" r="0.95" fill="#111"/>
<circle cx="59.20" cy="173.10" r="0.95" fill="#111"/>
<circle cx="51.70" cy="173.40" r="0.95" fill="#111"/>
<circle cx="52.00" cy="175.10" r="0.95" fill="#111"/>
<circle cx="59.10" cy="173.00" r="0.95" fill="#111"/>
<circle cx="52.70" cy="184.40" r="0.95" fill="#111"/>
<circle cx="56.30" cy="186.20" r="0.95" fill="#111"/>
<circle cx="59.80" cy="187.10" r="0.95" fill="#111"/>
<circle cx="57.70" cy="178.20" r="0.95" fill="#111"/>
<circle cx="52.40" cy="197.70" r="0.95" fill="#111"/>
<circle cx="62.60" cy="195.00" r="0.95" fill="#111"/>
<circle cx="62.10" cy="204.20" r="0.95" fill="#111"/>
<circle cx="51.50" cy="209.50" r="0.95" fill="#111"/>
<circle cx="88.50" cy="134.20" r="0.95" fill="#111"/>
<circle cx="81.10" cy="141.60" r="0.95" fill="#111"/>
<circle cx="85.30" cy="142.80" r="0.95" fill="#111"/>
<circle cx="89.50" cy="152.00" r="0.95" fill="#111"/>
<circle cx="90.50" cy="153.00" r="0.95" fill="#111"/>
<circle cx="80.70" cy="162.40" r="0.95" fill="#111"/>
<circle cx="88.70" cy="173.40" r="0.95" fill="#111"/>
<circle cx="90.80" cy="173.80" r="0.95" fill="#111"/>
<circle cx="87.40" cy="175.50" r="0.95" fill="#111"/>
<circle cx="86.60" cy="180.80" r="0.95" fill="#111"/>
<circle cx="85.90" cy="184.00" r="0.95" fill="#111"/>
<circle cx="88.00" cy="187.80" r="0.95" fill="#111"/>
<circle cx="89.50" cy="187.80" r="0.95" fill="#111"/>
<circle cx="88.70" cy="191.00" r="0.95" fill="#111"/>
<circle cx="85.30" cy="195.60" r="0.95" fill="#111"/>
<circle cx="83.80" cy="199.90" r="0.95" fill="#111"/>
<circle cx="82.70" cy="203.50" r="0.95" fill="#111"/>
<circle cx="114.60" cy="155.10" r="0.95" fill="#111"/>
<circle cx="110.60" cy="173.30" r="0.95" fill="#111"/>
<circle cx="111.40" cy="172.60" r="0.95" fill="#111"/>
<circle cx="120.80" cy="185.00" r="0.95" fill="#111"/>
<circle cx="112.00" cy="191.50" r="0.95" fill="#111"/>
<circle cx="112.70" cy="193.30" r="0.95" fill="#111"/>
<circle cx="115.90" cy="194.20" r="0.95" fill="#111"/>
<circle cx="113.30" cy="200.30" r="0.95" fill="#111"/>
<circle cx="115.00" cy="202.10" r="0.95" fill="#111"/>
<circle cx="117.70" cy="204.80" r="0.95" fill="#111"/>
<circle cx="111.50" cy="206.50" r="0.95" fill="#111"/>
<circle cx="112.00" cy="210.00" r="0.95" fill="#111"/>
<circle cx="118.60" cy="209.20" r="0.95" fill="#111"/>
<circle cx="119.80" cy="210.00" r="0.95" fill="#111"/>
<circle cx="118.60" cy="212.70" r="0.95" fill="#111"/>
<circle cx="115.00" cy="154.80" r="0.95" fill="#111"/>
<polyline points="57.1,118.2 57.1,116.1 116.2,116.1 116.2,118.2" fill="none" stroke="#1a1a1a" stroke-width="1.1"/>
<polyline points="86.3,132.6 86.3,130.6 116.2,130.6 116.2,132.6" fill="none" stroke="#1a1a1a" stroke-width="1.1"/>
<text x="72.0" y="111.4" font-size="6.0" fill="#2b2b2b" textLength="29.9" lengthAdjust="spacingAndGlyphs"><tspan font-style="italic">P</tspan> = 0.00068</text>
<text x="86.3" y="125.9" font-size="6.0" fill="#2b2b2b" textLength="30.3" lengthAdjust="spacingAndGlyphs"><tspan font-style="italic">P</tspan> = 0.00058</text>
<text stroke="#1c1c1c" stroke-width="0.15" transform="translate(60.60,238.50) rotate(-45)" x="0" y="0" font-size="7.8" fill="#1c1c1c" text-anchor="end" textLength="31.00" lengthAdjust="spacingAndGlyphs">Birinapant</text>
<text stroke="#1c1c1c" stroke-width="0.15" transform="translate(89.50,238.50) rotate(-45)" x="0" y="0" font-size="7.8" fill="#1c1c1c" text-anchor="end" textLength="34.00" lengthAdjust="spacingAndGlyphs">CAR T cells</text>
<text stroke="#1c1c1c" stroke-width="0.15" transform="translate(118.80,238.50) rotate(-45)" x="0" y="0" font-size="7.8" fill="#1c1c1c" text-anchor="end" textLength="34.00" lengthAdjust="spacingAndGlyphs">CAR T cells</text>
<text stroke="#1c1c1c" stroke-width="0.15" transform="translate(124.80,243.50) rotate(-45)" x="0" y="0" font-size="7.8" fill="#1c1c1c" text-anchor="end" textLength="36.50" lengthAdjust="spacingAndGlyphs">+ birinapant</text>
<text x="148.80" y="137.70" font-size="8.0" font-weight="normal" font-style="normal" fill="#1c1c1c" stroke="#1c1c1c" stroke-width="0.1" textLength="32.10" lengthAdjust="spacingAndGlyphs">Target cell</text>
<text x="152.70" y="145.90" font-size="8.0" font-weight="normal" font-style="normal" fill="#1c1c1c" stroke="#1c1c1c" stroke-width="0.1" textLength="24.20" lengthAdjust="spacingAndGlyphs">viability</text>
<text x="152.70" y="154.10" font-size="8.0" font-weight="normal" font-style="normal" fill="#1c1c1c" stroke="#1c1c1c" stroke-width="0.1" textLength="24.20" lengthAdjust="spacingAndGlyphs">without</text>
<text x="155.00" y="162.40" font-size="8.0" font-weight="normal" font-style="normal" fill="#1c1c1c" stroke="#1c1c1c" stroke-width="0.1" textLength="19.60" lengthAdjust="spacingAndGlyphs">T cells</text>
<text x="153.20" y="170.30" font-size="8.0" font-weight="normal" font-style="normal" fill="#1c1c1c" stroke="#1c1c1c" stroke-width="0.1" textLength="23.70" lengthAdjust="spacingAndGlyphs">or drug</text>
<text x="196.50" y="100.40" font-size="12.4" font-weight="bold" font-style="normal" fill="#111" stroke="#111" stroke-width="0.4" textLength="8.40" lengthAdjust="spacingAndGlyphs">C</text>
<text stroke="#1c1c1c" stroke-width="0.15" transform="translate(203.60,181.90) rotate(-90)" x="0" y="0" font-size="8.3" fill="#1c1c1c" text-anchor="middle" textLength="98.50" lengthAdjust="spacingAndGlyphs">Difference in normalized viable</text>
<text stroke="#1c1c1c" stroke-width="0.15" transform="translate(213.60,183.40) rotate(-90)" x="0" y="0" font-size="8.3" fill="#1c1c1c" text-anchor="middle" textLength="89.50" lengthAdjust="spacingAndGlyphs">CD19+ cells between CART</text>
<text stroke="#1c1c1c" stroke-width="0.15" transform="translate(224.90,181.60) rotate(-90)" x="0" y="0" font-size="8.3" fill="#1c1c1c" text-anchor="middle" textLength="87.40" lengthAdjust="spacingAndGlyphs">only and CART + birinapant</text>
<text x="230.40" y="225.75" font-size="7.0" font-weight="normal" font-style="normal" fill="#1c1c1c" stroke="#1c1c1c" stroke-width="0.15" textLength="9.70" lengthAdjust="spacingAndGlyphs">0.0</text>
<line x1="243.10" y1="223.30" x2="246.30" y2="223.30" stroke="#222" stroke-width="1.1" />
<text x="230.40" y="204.42" font-size="7.0" font-weight="normal" font-style="normal" fill="#1c1c1c" stroke="#1c1c1c" stroke-width="0.15" textLength="9.70" lengthAdjust="spacingAndGlyphs">0.3</text>
<line x1="243.10" y1="201.97" x2="246.30" y2="201.97" stroke="#222" stroke-width="1.1" />
<text x="230.40" y="183.09" font-size="7.0" font-weight="normal" font-style="normal" fill="#1c1c1c" stroke="#1c1c1c" stroke-width="0.15" textLength="9.70" lengthAdjust="spacingAndGlyphs">0.6</text>
<line x1="243.10" y1="180.64" x2="246.30" y2="180.64" stroke="#222" stroke-width="1.1" />
<text x="230.40" y="161.76" font-size="7.0" font-weight="normal" font-style="normal" fill="#1c1c1c" stroke="#1c1c1c" stroke-width="0.15" textLength="9.70" lengthAdjust="spacingAndGlyphs">0.9</text>
<line x1="243.10" y1="159.31" x2="246.30" y2="159.31" stroke="#222" stroke-width="1.1" />
<line x1="246.40" y1="138.00" x2="246.40" y2="227.60" stroke="#222" stroke-width="1.5" />
<line x1="245.70" y1="226.90" x2="391.90" y2="226.90" stroke="#222" stroke-width="1.6" />
<rect x="248.35" y="222.50" width="12.60" height="1.40" fill="#cdc2e0" />
<line x1="254.65" y1="226.90" x2="254.65" y2="229.60" stroke="#222" stroke-width="1.1" />
<text stroke="#1c1c1c" stroke-width="0.15" transform="translate(257.75,237.90) rotate(-45)" x="0" y="0" font-size="7.2" fill="#1c1c1c" text-anchor="end" textLength="25.60" lengthAdjust="spacingAndGlyphs">Patient 5</text>
<rect x="262.55" y="222.00" width="12.60" height="1.40" fill="#4b2876" />
<line x1="268.85" y1="226.90" x2="268.85" y2="229.60" stroke="#222" stroke-width="1.1" />
<text stroke="#1c1c1c" stroke-width="0.15" transform="translate(271.95,237.90) rotate(-45)" x="0" y="0" font-size="7.2" fill="#1c1c1c" text-anchor="end" textLength="25.60" lengthAdjust="spacingAndGlyphs">Patient 8</text>
<rect x="276.75" y="205.90" width="12.60" height="17.40" fill="#b5c832" />
<line x1="283.05" y1="226.90" x2="283.05" y2="229.60" stroke="#222" stroke-width="1.1" />
<text stroke="#1c1c1c" stroke-width="0.15" transform="translate(286.15,237.90) rotate(-45)" x="0" y="0" font-size="7.2" fill="#1c1c1c" text-anchor="end" textLength="25.60" lengthAdjust="spacingAndGlyphs">Patient 3</text>
<rect x="290.95" y="201.30" width="12.60" height="22.00" fill="#4b2876" />
<line x1="297.25" y1="226.90" x2="297.25" y2="229.60" stroke="#222" stroke-width="1.1" />
<text stroke="#1c1c1c" stroke-width="0.15" transform="translate(300.35,237.90) rotate(-45)" x="0" y="0" font-size="7.2" fill="#1c1c1c" text-anchor="end" textLength="29.60" lengthAdjust="spacingAndGlyphs">Patient 10</text>
<rect x="305.15" y="200.40" width="12.60" height="22.90" fill="#b5c832" />
<line x1="311.45" y1="226.90" x2="311.45" y2="229.60" stroke="#222" stroke-width="1.1" />
<text stroke="#1c1c1c" stroke-width="0.15" transform="translate(314.55,237.90) rotate(-45)" x="0" y="0" font-size="7.2" fill="#1c1c1c" text-anchor="end" textLength="25.60" lengthAdjust="spacingAndGlyphs">Patient 7</text>
<rect x="319.35" y="196.80" width="12.60" height="26.50" fill="#b5c832" />
<line x1="325.65" y1="226.90" x2="325.65" y2="229.60" stroke="#222" stroke-width="1.1" />
<text stroke="#1c1c1c" stroke-width="0.15" transform="translate(328.75,237.90) rotate(-45)" x="0" y="0" font-size="7.2" fill="#1c1c1c" text-anchor="end" textLength="25.60" lengthAdjust="spacingAndGlyphs">Patient 4</text>
<rect x="333.55" y="192.10" width="12.60" height="31.20" fill="#b5c832" />
<line x1="339.85" y1="226.90" x2="339.85" y2="229.60" stroke="#222" stroke-width="1.1" />
<text stroke="#1c1c1c" stroke-width="0.15" transform="translate(342.95,237.90) rotate(-45)" x="0" y="0" font-size="7.2" fill="#1c1c1c" text-anchor="end" textLength="25.60" lengthAdjust="spacingAndGlyphs">Patient 6</text>
<rect x="347.75" y="192.10" width="12.60" height="31.20" fill="#b5c832" />
<line x1="354.05" y1="226.90" x2="354.05" y2="229.60" stroke="#222" stroke-width="1.1" />
<text stroke="#1c1c1c" stroke-width="0.15" transform="translate(357.15,237.90) rotate(-45)" x="0" y="0" font-size="7.2" fill="#1c1c1c" text-anchor="end" textLength="25.60" lengthAdjust="spacingAndGlyphs">Patient 9</text>
<rect x="361.95" y="172.00" width="12.60" height="51.30" fill="#228a84" />
<line x1="368.25" y1="226.90" x2="368.25" y2="229.60" stroke="#222" stroke-width="1.1" />
<text stroke="#1c1c1c" stroke-width="0.15" transform="translate(371.35,237.90) rotate(-45)" x="0" y="0" font-size="7.2" fill="#1c1c1c" text-anchor="end" textLength="25.60" lengthAdjust="spacingAndGlyphs">Patient 1</text>
<rect x="376.15" y="148.20" width="12.60" height="75.10" fill="#b5c832" />
<line x1="382.45" y1="226.90" x2="382.45" y2="229.60" stroke="#222" stroke-width="1.1" />
<text stroke="#1c1c1c" stroke-width="0.15" transform="translate(385.55,237.90) rotate(-45)" x="0" y="0" font-size="7.2" fill="#1c1c1c" text-anchor="end" textLength="25.60" lengthAdjust="spacingAndGlyphs">Patient 2</text>
<text x="254.80" y="144.90" font-size="6.4" font-weight="normal" font-style="normal" fill="#1c1c1c" stroke="#1c1c1c" stroke-width="0.05" textLength="21.60" lengthAdjust="spacingAndGlyphs">Subtype</text>
<rect x="254.80" y="149.60" width="5.90" height="5.80" fill="#b5c832" />
<rect x="254.80" y="158.90" width="5.90" height="5.80" fill="#28644b" />
<rect x="254.80" y="168.20" width="5.90" height="5.80" fill="#4b2876" />
<text x="263.80" y="154.00" font-size="6.4" font-weight="normal" font-style="normal" fill="#1c1c1c" stroke="#1c1c1c" stroke-width="0.05" textLength="6.50" lengthAdjust="spacingAndGlyphs">Ph</text>
<text x="263.80" y="163.50" font-size="6.4" font-weight="normal" font-style="normal" fill="#1c1c1c" stroke="#1c1c1c" stroke-width="0.05" textLength="63.60" lengthAdjust="spacingAndGlyphs">Ph&#8211;like (MEF2D&#8211;CSF1R)</text>
<text x="263.80" y="172.80" font-size="6.4" font-weight="normal" font-style="normal" fill="#1c1c1c" stroke="#1c1c1c" stroke-width="0.05" textLength="15.10" lengthAdjust="spacingAndGlyphs">Other</text>
<text x="397.00" y="100.10" font-size="12.4" font-weight="bold" font-style="normal" fill="#111" stroke="#111" stroke-width="0.4" textLength="8.70" lengthAdjust="spacingAndGlyphs">D</text>
<text stroke="#1c1c1c" stroke-width="0.15" transform="translate(415.70,166.10) rotate(-90)" x="0" y="0" font-size="8.3" fill="#1c1c1c" text-anchor="middle" textLength="98.40" lengthAdjust="spacingAndGlyphs">Difference in normalized viable</text>
<text stroke="#1c1c1c" stroke-width="0.15" transform="translate(427.40,166.10) rotate(-90)" x="0" y="0" font-size="8.3" fill="#1c1c1c" text-anchor="middle" textLength="100.40" lengthAdjust="spacingAndGlyphs">CD19+ cells between CART only</text>
<text stroke="#1c1c1c" stroke-width="0.15" transform="translate(436.50,168.70) rotate(-90)" x="0" y="0" font-size="8.3" fill="#1c1c1c" text-anchor="middle" textLength="78.30" lengthAdjust="spacingAndGlyphs">and CART + birinapant</text>
<text x="442.40" y="223.70" font-size="6.8" font-weight="normal" font-style="normal" fill="#1c1c1c" stroke="#1c1c1c" stroke-width="0.15" textLength="9.60" lengthAdjust="spacingAndGlyphs">0.0</text>
<line x1="454.80" y1="221.30" x2="458.20" y2="221.30" stroke="#222" stroke-width="1.1" />
<text x="442.40" y="193.91" font-size="6.8" font-weight="normal" font-style="normal" fill="#1c1c1c" stroke="#1c1c1c" stroke-width="0.15" textLength="9.60" lengthAdjust="spacingAndGlyphs">0.3</text>
<line x1="454.80" y1="191.51" x2="458.20" y2="191.51" stroke="#222" stroke-width="1.1" />
<text x="442.40" y="164.12" font-size="6.8" font-weight="normal" font-style="normal" fill="#1c1c1c" stroke="#1c1c1c" stroke-width="0.15" textLength="9.60" lengthAdjust="spacingAndGlyphs">0.6</text>
<line x1="454.80" y1="161.72" x2="458.20" y2="161.72" stroke="#222" stroke-width="1.1" />
<text x="442.40" y="134.33" font-size="6.8" font-weight="normal" font-style="normal" fill="#1c1c1c" stroke="#1c1c1c" stroke-width="0.15" textLength="9.60" lengthAdjust="spacingAndGlyphs">0.9</text>
<line x1="454.80" y1="131.93" x2="458.20" y2="131.93" stroke="#222" stroke-width="1.1" />
<line x1="458.20" y1="106.20" x2="458.20" y2="227.60" stroke="#222" stroke-width="1.5" />
<line x1="457.60" y1="226.90" x2="512.70" y2="226.90" stroke="#222" stroke-width="1.6" />
<line x1="473.10" y1="226.90" x2="473.10" y2="229.60" stroke="#222" stroke-width="1.1" />
<line x1="498.20" y1="226.90" x2="498.20" y2="229.60" stroke="#222" stroke-width="1.1" />
<line x1="473.10" y1="149.90" x2="473.10" y2="197.80" stroke="#6e6e6e" stroke-width="1.1" />
<rect x="463.90" y="163.90" width="18.20" height="22.70" fill="#b5c832" />
<line x1="463.90" y1="178.10" x2="482.10" y2="178.10" stroke="#111" stroke-width="1.5" />
<line x1="498.00" y1="190.40" x2="498.00" y2="221.00" stroke="#6e6e6e" stroke-width="1.1" />
<rect x="488.90" y="205.80" width="18.10" height="14.60" fill="#4b2876" />
<line x1="488.90" y1="219.80" x2="507.00" y2="219.80" stroke="#111" stroke-width="1.5" />
<circle cx="476.80" cy="117.00" r="0.95" fill="#111"/>
<circle cx="468.10" cy="149.70" r="0.95" fill="#111"/>
<circle cx="470.30" cy="184.50" r="0.95" fill="#111"/>
<circle cx="476.60" cy="190.00" r="0.95" fill="#111"/>
<circle cx="475.30" cy="197.80" r="0.95" fill="#111"/>
<circle cx="469.00" cy="178.10" r="0.95" fill="#111"/>
<circle cx="473.00" cy="178.10" r="0.95" fill="#111"/>
<circle cx="477.00" cy="178.10" r="0.95" fill="#111"/>
<circle cx="500.50" cy="220.90" r="0.95" fill="#111"/>
<circle cx="496.00" cy="220.50" r="0.95" fill="#111"/>
<polyline points="472.6,114.4 472.6,111.8 498.4,111.8 498.4,114.4" fill="none" stroke="#1a1a1a" stroke-width="1.1"/>
<text x="475.1" y="106.8" font-size="6.0" fill="#2b2b2b" textLength="20.8" lengthAdjust="spacingAndGlyphs"><tspan font-style="italic">P</tspan> = 0.04</text>
<text stroke="#1c1c1c" stroke-width="0.15" transform="translate(476.00,234.90) rotate(-45)" x="0" y="0" font-size="7.4" fill="#1c1c1c" text-anchor="end" textLength="31.50" lengthAdjust="spacingAndGlyphs">Ph/Ph&#8211;like</text>
<text stroke="#1c1c1c" stroke-width="0.15" transform="translate(500.60,234.80) rotate(-45)" x="0" y="0" font-size="7.4" fill="#1c1c1c" text-anchor="end" textLength="17.50" lengthAdjust="spacingAndGlyphs">Other</text>
</svg>
</body></html>
